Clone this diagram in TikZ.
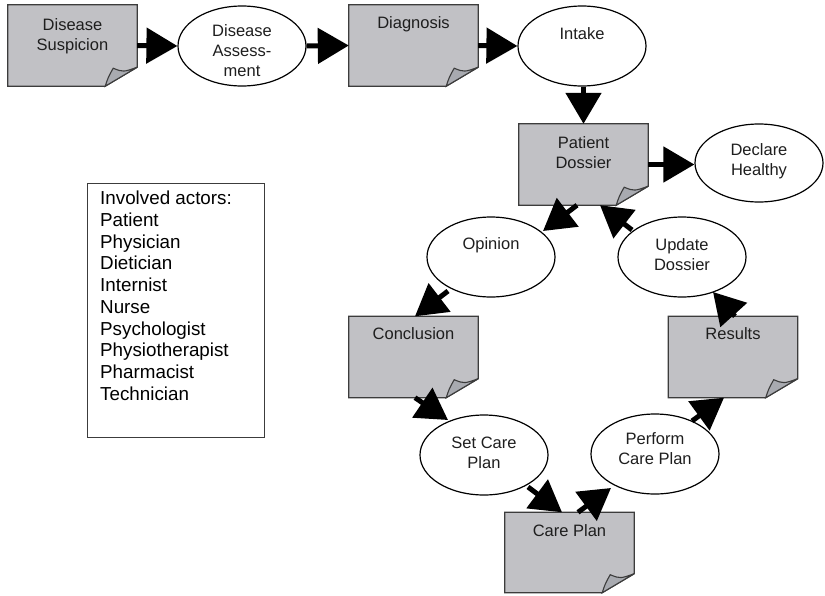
\documentclass[tikz,border=0pt]{standalone}
\usepackage{fontspec}
\setmainfont{Liberation Sans}
\usetikzlibrary{shapes.geometric,arrows.meta,calc}
\definecolor{docgray}{RGB}{193,193,197}
\definecolor{curlgray}{RGB}{168,170,176}
\definecolor{docline}{RGB}{60,60,60}
\definecolor{txtcol}{RGB}{30,30,30}
\newcommand{\docshape}[1]{%
  \draw[docline, line width=1.3pt, fill=docgray] (#1.north west) -- (#1.north east)
    -- ($(#1.south east)+(0,-19)$) -- ($(#1.south east)+(-32,0)$) -- (#1.south west) -- cycle;
  \draw[docline, line width=1.1pt, fill=curlgray] ($(#1.south east)+(-32,0)$)
    .. controls ($(#1.south east)+(-29,-9)$) .. ($(#1.south east)+(-24,-18)$)
    .. controls ($(#1.south east)+(-14,-14)$) .. ($(#1.south east)+(0,-19)$) -- cycle;}
\tikzset{
  docbox/.style={rectangle, minimum width=129pt, minimum height=81pt, inner sep=0pt},
  actbox/.style={ellipse, draw=black, line width=1.2pt, fill=white, minimum width=128pt, minimum height=80pt, inner sep=0pt},
  txt/.style={align=center, inner sep=0pt, text=txtcol, font=\fontsize{16.5}{20}\selectfont},
  flow/.style={line width=5pt, black, -{Triangle[length=31pt,width=35pt]}},
}
\begin{document}
\begin{tikzpicture}[x=1pt,y=-1pt]
\useasboundingbox (0,0) rectangle (825,595);

% document-shaped nodes
\node[docbox] (ds) at (72.5,45.5) {};
\node[docbox] (dg) at (413.5,45.5) {};
\node[docbox] (pd) at (583.5,164.5) {};
\node[docbox] (cc) at (413.5,357) {};
\node[docbox] (rs) at (733,357) {};
\node[docbox, minimum height=80pt] (cp) at (569.5,552.5) {};
\docshape{ds}
\docshape{dg}
\docshape{pd}
\docshape{cc}
\docshape{rs}
\docshape{cp}
\node[txt, anchor=north] (ds-t) at ($(ds.north)+(0,13.5)$) {Disease\\Suspicion};
\node[txt, anchor=north] (dg-t) at ($(dg.north)+(0,12)$) {Diagnosis};
\node[txt, anchor=north] (pd-t) at ($(pd.north)+(0,12.5)$) {Patient\\Dossier};
\node[txt, anchor=north] (cc-t) at ($(cc.north)+(0,11.5)$) {Conclusion};
\node[txt, anchor=north] (rs-t) at ($(rs.north)+(0,11.5)$) {Results};
\node[txt, anchor=north] (cp-t) at ($(cp.north)+(0,12)$) {Care Plan};

% ellipses
\node[actbox] (da) at (242,46) {};
\node[actbox] (in) at (582,46) {};
\node[actbox, minimum height=78pt] (dh) at (759,163) {};
\node[actbox] (op) at (491,257) {};
\node[actbox] (ud) at (682,257) {};
\node[actbox] (sc) at (484,455) {};
\node[actbox] (pf) at (655,454) {};
\node[txt, anchor=north] (da-t) at ($(da.center)+(0,-21.5)$) {Disease\\Assess-\\ment};
\node[txt, anchor=north] (in-t) at ($(in.center)+(0,-19)$) {Intake};
\node[txt, anchor=north] (dh-t) at ($(dh.center)+(0,-19.5)$) {Declare\\Healthy};
\node[txt, anchor=north] (op-t) at ($(op.center)+(0,-19.5)$) {Opinion};
\node[txt, anchor=north] (ud-t) at ($(ud.center)+(0,-18.5)$) {Update\\Dossier};
\node[txt, anchor=north] (sc-t) at ($(sc.center)+(0,-18.5)$) {Set Care\\Plan};
\node[txt, anchor=north] (pf-t) at ($(pf.center)+(0,-21.5)$) {Perform\\Care Plan};

% actors box
\node[draw=docline, line width=1.3pt, minimum width=177pt, minimum height=254pt, inner sep=0pt, anchor=north west] (act) at (87,183) {};
\node[anchor=north west, align=left, inner sep=0pt, text=black, font=\fontsize{18.8}{21.7}\selectfont] (act-t) at ($(act.north west)+(13,8)$)
  {Involved actors:\\Patient\\Physician\\Dietician\\Internist\\Nurse\\Psychologist\\Physiotherapist\\Pharmacist\\Technician};

% connectors
\draw[flow] (ds.east) -- (da.west);
\draw[flow] (da.east) -- (dg.west);
\draw[flow] (dg.east) -- (in.west);
\draw[flow] (in.south -| pd.north) -- (pd.north);
\draw[flow] (pd.east) -- (pd.east -| dh.west);
\draw[flow] ($(pd.south)+(-6.5,0)$) -- ($(op.center)+(52,-26)$);
\draw[flow] ($(ud.center)+(-50,-27)$) -- ($(pd.south)+(16.5,0)$);
\draw[flow] ($(op.center)+(-43,34)$) -- ($(cc.north)+(1.5,0)$);
\draw[flow] ($(rs.north)+(2,0)$) -- ($(ud.center)+(31,35)$);
\draw[flow] ($(cc.south)+(1.5,0)$) -- ($(sc.center)+(-36,-35)$);
\draw[flow] ($(sc.center)+(44,32)$) -- ($(cp.north)+(-7.5,0)$);
\draw[flow] ($(cp.north)+(8.5,0)$) -- ($(pf.center)+(-44,34)$);
\draw[flow] ($(pf.center)+(37,-33)$) -- ($(rs.south)+(-9,0)$);
\end{tikzpicture}
\end{document}
